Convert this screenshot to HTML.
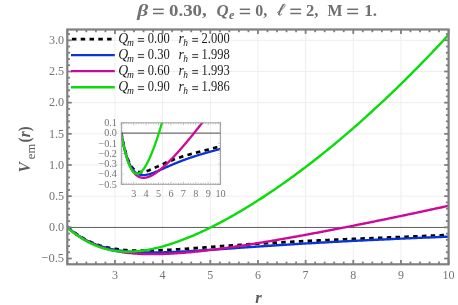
<!DOCTYPE html><html><head><meta charset="utf-8"><style>html,body{margin:0;padding:0;background:#fff}svg{display:block;will-change:transform;filter:contrast(1)}text{font-family:"Liberation Serif",serif}</style></head><body>
<svg width="458" height="305" viewBox="0 0 458 305">
<rect width="458" height="305" fill="#fff"/>
<g stroke="#eeeeee" stroke-width="1" fill="none"><line x1="114.96" y1="29.50" x2="114.96" y2="264.30"/><line x1="162.62" y1="29.50" x2="162.62" y2="264.30"/><line x1="210.29" y1="29.50" x2="210.29" y2="264.30"/><line x1="257.95" y1="29.50" x2="257.95" y2="264.30"/><line x1="305.61" y1="29.50" x2="305.61" y2="264.30"/><line x1="353.28" y1="29.50" x2="353.28" y2="264.30"/><line x1="400.94" y1="29.50" x2="400.94" y2="264.30"/><line x1="67.30" y1="196.17" x2="448.60" y2="196.17"/><line x1="67.30" y1="165.00" x2="448.60" y2="165.00"/><line x1="67.30" y1="133.82" x2="448.60" y2="133.82"/><line x1="67.30" y1="102.65" x2="448.60" y2="102.65"/><line x1="67.30" y1="71.47" x2="448.60" y2="71.47"/><line x1="67.30" y1="40.30" x2="448.60" y2="40.30"/></g>
<line x1="67.30" y1="227.45" x2="448.60" y2="227.45" stroke="#5c5c5c" stroke-width="1"/>
<clipPath id="cm"><rect x="67.30" y="29.50" width="381.30" height="234.80"/></clipPath>
<g clip-path="url(#cm)" fill="none" stroke-width="2.4" stroke-linejoin="round">
<path d="M67.30 226.76 L69.22 228.40 L71.13 229.97 L73.05 231.47 L74.96 232.91 L76.88 234.27 L78.80 235.56 L80.71 236.77 L82.63 237.92 L84.54 239.01 L86.46 240.02 L88.38 240.97 L90.29 241.87 L92.21 242.70 L94.13 243.47 L96.04 244.19 L97.96 244.87 L99.87 245.49 L101.79 246.06 L103.71 246.59 L105.62 247.08 L107.54 247.52 L109.45 247.93 L111.37 248.31 L113.29 248.64 L115.20 248.95 L117.12 249.23 L119.03 249.48 L120.95 249.70 L122.87 249.89 L124.78 250.06 L126.70 250.21 L128.61 250.34 L130.53 250.45 L132.45 250.53 L134.36 250.61 L136.28 250.66 L138.19 250.70 L140.11 250.72 L142.03 250.74 L143.94 250.73 L145.86 250.72 L147.78 250.70 L149.69 250.66 L151.61 250.62 L153.52 250.56 L155.44 250.50 L157.36 250.43 L159.27 250.36 L161.19 250.27 L163.10 250.18 L165.02 250.09 L166.94 249.99 L168.85 249.88 L170.77 249.78 L172.68 249.66 L174.60 249.54 L176.52 249.42 L178.43 249.30 L180.35 249.17 L182.26 249.05 L184.18 248.92 L186.10 248.78 L188.01 248.65 L189.93 248.51 L191.85 248.37 L193.76 248.24 L195.68 248.10 L197.59 247.96 L199.51 247.82 L201.43 247.67 L203.34 247.53 L205.26 247.39 L207.17 247.25 L209.09 247.11 L211.01 246.97 L212.92 246.83 L214.84 246.68 L216.75 246.54 L218.67 246.40 L220.59 246.26 L222.50 246.12 L224.42 245.99 L226.33 245.85 L228.25 245.71 L230.17 245.58 L232.08 245.44 L234.00 245.31 L235.92 245.17 L237.83 245.04 L239.75 244.91 L241.66 244.78 L243.58 244.65 L245.50 244.52 L247.41 244.40 L249.33 244.27 L251.24 244.15 L253.16 244.02 L255.08 243.90 L256.99 243.78 L258.91 243.66 L260.82 243.54 L262.74 243.42 L264.66 243.31 L266.57 243.19 L268.49 243.08 L270.40 242.97 L272.32 242.85 L274.24 242.74 L276.15 242.63 L278.07 242.52 L279.98 242.42 L281.90 242.31 L283.82 242.21 L285.73 242.10 L287.65 242.00 L289.57 241.90 L291.48 241.80 L293.40 241.70 L295.31 241.60 L297.23 241.50 L299.15 241.40 L301.06 241.30 L302.98 241.21 L304.89 241.11 L306.81 241.02 L308.73 240.93 L310.64 240.84 L312.56 240.74 L314.47 240.65 L316.39 240.57 L318.31 240.48 L320.22 240.39 L322.14 240.30 L324.05 240.21 L325.97 240.13 L327.89 240.04 L329.80 239.96 L331.72 239.87 L333.64 239.79 L335.55 239.71 L337.47 239.62 L339.38 239.54 L341.30 239.46 L343.22 239.38 L345.13 239.30 L347.05 239.22 L348.96 239.14 L350.88 239.06 L352.80 238.98 L354.71 238.90 L356.63 238.82 L358.54 238.74 L360.46 238.67 L362.38 238.59 L364.29 238.51 L366.21 238.43 L368.12 238.35 L370.04 238.28 L371.96 238.20 L373.87 238.12 L375.79 238.05 L377.71 237.97 L379.62 237.89 L381.54 237.82 L383.45 237.74 L385.37 237.66 L387.29 237.59 L389.20 237.51 L391.12 237.43 L393.03 237.36 L394.95 237.28 L396.87 237.20 L398.78 237.12 L400.70 237.05 L402.61 236.97 L404.53 236.89 L406.45 236.81 L408.36 236.73 L410.28 236.65 L412.19 236.57 L414.11 236.50 L416.03 236.42 L417.94 236.34 L419.86 236.25 L421.77 236.17 L423.69 236.09 L425.61 236.01 L427.52 235.93 L429.44 235.85 L431.36 235.76 L433.27 235.68 L435.19 235.59 L437.10 235.51 L439.02 235.42 L440.94 235.34 L442.85 235.25 L444.77 235.17 L446.68 235.08 L448.60 234.99" stroke="#000000" stroke-dasharray="4.5 4.3" stroke-width="2.8"/>
<path d="M67.30 227.01 L69.22 228.66 L71.13 230.25 L73.05 231.76 L74.96 233.20 L76.88 234.56 L78.80 235.86 L80.71 237.08 L82.63 238.24 L84.54 239.34 L86.46 240.37 L88.38 241.34 L90.29 242.25 L92.21 243.11 L94.13 243.91 L96.04 244.66 L97.96 245.36 L99.87 246.02 L101.79 246.63 L103.71 247.20 L105.62 247.73 L107.54 248.22 L109.45 248.68 L111.37 249.10 L113.29 249.49 L115.20 249.84 L117.12 250.17 L119.03 250.47 L120.95 250.75 L122.87 251.00 L124.78 251.22 L126.70 251.42 L128.61 251.61 L130.53 251.77 L132.45 251.91 L134.36 252.04 L136.28 252.15 L138.19 252.24 L140.11 252.32 L142.03 252.38 L143.94 252.43 L145.86 252.47 L147.78 252.50 L149.69 252.51 L151.61 252.52 L153.52 252.51 L155.44 252.50 L157.36 252.47 L159.27 252.44 L161.19 252.40 L163.10 252.35 L165.02 252.30 L166.94 252.24 L168.85 252.17 L170.77 252.10 L172.68 252.03 L174.60 251.94 L176.52 251.86 L178.43 251.77 L180.35 251.67 L182.26 251.57 L184.18 251.47 L186.10 251.37 L188.01 251.26 L189.93 251.15 L191.85 251.03 L193.76 250.92 L195.68 250.80 L197.59 250.68 L199.51 250.55 L201.43 250.43 L203.34 250.31 L205.26 250.18 L207.17 250.05 L209.09 249.92 L211.01 249.79 L212.92 249.66 L214.84 249.53 L216.75 249.40 L218.67 249.26 L220.59 249.13 L222.50 249.00 L224.42 248.86 L226.33 248.73 L228.25 248.59 L230.17 248.46 L232.08 248.32 L234.00 248.19 L235.92 248.05 L237.83 247.92 L239.75 247.78 L241.66 247.65 L243.58 247.52 L245.50 247.38 L247.41 247.25 L249.33 247.12 L251.24 246.98 L253.16 246.85 L255.08 246.72 L256.99 246.59 L258.91 246.46 L260.82 246.33 L262.74 246.20 L264.66 246.07 L266.57 245.94 L268.49 245.82 L270.40 245.69 L272.32 245.56 L274.24 245.44 L276.15 245.31 L278.07 245.19 L279.98 245.07 L281.90 244.94 L283.82 244.82 L285.73 244.70 L287.65 244.58 L289.57 244.46 L291.48 244.34 L293.40 244.22 L295.31 244.11 L297.23 243.99 L299.15 243.87 L301.06 243.76 L302.98 243.64 L304.89 243.53 L306.81 243.42 L308.73 243.31 L310.64 243.19 L312.56 243.08 L314.47 242.97 L316.39 242.86 L318.31 242.76 L320.22 242.65 L322.14 242.54 L324.05 242.43 L325.97 242.33 L327.89 242.22 L329.80 242.12 L331.72 242.02 L333.64 241.91 L335.55 241.81 L337.47 241.71 L339.38 241.61 L341.30 241.51 L343.22 241.41 L345.13 241.31 L347.05 241.21 L348.96 241.11 L350.88 241.01 L352.80 240.92 L354.71 240.82 L356.63 240.73 L358.54 240.63 L360.46 240.54 L362.38 240.44 L364.29 240.35 L366.21 240.26 L368.12 240.16 L370.04 240.07 L371.96 239.98 L373.87 239.89 L375.79 239.80 L377.71 239.71 L379.62 239.62 L381.54 239.53 L383.45 239.44 L385.37 239.36 L387.29 239.27 L389.20 239.18 L391.12 239.09 L393.03 239.01 L394.95 238.92 L396.87 238.84 L398.78 238.75 L400.70 238.67 L402.61 238.58 L404.53 238.50 L406.45 238.41 L408.36 238.33 L410.28 238.25 L412.19 238.16 L414.11 238.08 L416.03 238.00 L417.94 237.92 L419.86 237.84 L421.77 237.75 L423.69 237.67 L425.61 237.59 L427.52 237.51 L429.44 237.43 L431.36 237.35 L433.27 237.27 L435.19 237.19 L437.10 237.11 L439.02 237.03 L440.94 236.95 L442.85 236.87 L444.77 236.79 L446.68 236.71 L448.60 236.64" stroke="#0a35d2"/>
<path d="M67.30 227.42 L69.22 229.07 L71.13 230.65 L73.05 232.15 L74.96 233.58 L76.88 234.95 L78.80 236.25 L80.71 237.48 L82.63 238.64 L84.54 239.75 L86.46 240.80 L88.38 241.79 L90.29 242.73 L92.21 243.62 L94.13 244.45 L96.04 245.24 L97.96 245.98 L99.87 246.68 L101.79 247.33 L103.71 247.95 L105.62 248.52 L107.54 249.06 L109.45 249.57 L111.37 250.04 L113.29 250.47 L115.20 250.88 L117.12 251.25 L119.03 251.60 L120.95 251.92 L122.87 252.22 L124.78 252.49 L126.70 252.73 L128.61 252.96 L130.53 253.16 L132.45 253.34 L134.36 253.50 L136.28 253.64 L138.19 253.76 L140.11 253.87 L142.03 253.96 L143.94 254.03 L145.86 254.08 L147.78 254.12 L149.69 254.15 L151.61 254.16 L153.52 254.16 L155.44 254.15 L157.36 254.13 L159.27 254.09 L161.19 254.04 L163.10 253.98 L165.02 253.91 L166.94 253.83 L168.85 253.74 L170.77 253.64 L172.68 253.54 L174.60 253.42 L176.52 253.29 L178.43 253.16 L180.35 253.02 L182.26 252.87 L184.18 252.72 L186.10 252.56 L188.01 252.39 L189.93 252.21 L191.85 252.03 L193.76 251.84 L195.68 251.65 L197.59 251.45 L199.51 251.25 L201.43 251.04 L203.34 250.82 L205.26 250.60 L207.17 250.38 L209.09 250.15 L211.01 249.92 L212.92 249.68 L214.84 249.44 L216.75 249.19 L218.67 248.94 L220.59 248.69 L222.50 248.43 L224.42 248.17 L226.33 247.91 L228.25 247.64 L230.17 247.37 L232.08 247.09 L234.00 246.82 L235.92 246.54 L237.83 246.25 L239.75 245.97 L241.66 245.68 L243.58 245.39 L245.50 245.09 L247.41 244.79 L249.33 244.50 L251.24 244.19 L253.16 243.89 L255.08 243.58 L256.99 243.28 L258.91 242.96 L260.82 242.65 L262.74 242.34 L264.66 242.02 L266.57 241.70 L268.49 241.38 L270.40 241.06 L272.32 240.73 L274.24 240.41 L276.15 240.08 L278.07 239.75 L279.98 239.42 L281.90 239.08 L283.82 238.75 L285.73 238.41 L287.65 238.07 L289.57 237.73 L291.48 237.39 L293.40 237.05 L295.31 236.70 L297.23 236.36 L299.15 236.01 L301.06 235.66 L302.98 235.31 L304.89 234.96 L306.81 234.61 L308.73 234.26 L310.64 233.90 L312.56 233.55 L314.47 233.19 L316.39 232.83 L318.31 232.47 L320.22 232.11 L322.14 231.75 L324.05 231.38 L325.97 231.02 L327.89 230.65 L329.80 230.29 L331.72 229.92 L333.64 229.55 L335.55 229.18 L337.47 228.81 L339.38 228.44 L341.30 228.06 L343.22 227.69 L345.13 227.32 L347.05 226.94 L348.96 226.56 L350.88 226.18 L352.80 225.81 L354.71 225.43 L356.63 225.05 L358.54 224.66 L360.46 224.28 L362.38 223.90 L364.29 223.51 L366.21 223.13 L368.12 222.74 L370.04 222.35 L371.96 221.97 L373.87 221.58 L375.79 221.19 L377.71 220.80 L379.62 220.41 L381.54 220.01 L383.45 219.62 L385.37 219.23 L387.29 218.83 L389.20 218.44 L391.12 218.04 L393.03 217.64 L394.95 217.24 L396.87 216.85 L398.78 216.45 L400.70 216.05 L402.61 215.64 L404.53 215.24 L406.45 214.84 L408.36 214.44 L410.28 214.03 L412.19 213.63 L414.11 213.22 L416.03 212.81 L417.94 212.41 L419.86 212.00 L421.77 211.59 L423.69 211.18 L425.61 210.77 L427.52 210.36 L429.44 209.95 L431.36 209.53 L433.27 209.12 L435.19 208.70 L437.10 208.29 L439.02 207.87 L440.94 207.46 L442.85 207.04 L444.77 206.62 L446.68 206.20 L448.60 205.78" stroke="#cc0a9a"/>
<path d="M67.30 227.90 L69.22 229.35 L71.13 230.80 L73.05 232.22 L74.96 233.61 L76.88 234.97 L78.80 236.28 L80.71 237.55 L82.63 238.76 L84.54 239.92 L86.46 241.03 L88.38 242.07 L90.29 243.06 L92.21 243.99 L94.13 244.87 L96.04 245.68 L97.96 246.44 L99.87 247.14 L101.79 247.79 L103.71 248.38 L105.62 248.92 L107.54 249.40 L109.45 249.84 L111.37 250.22 L113.29 250.56 L115.20 250.85 L117.12 251.10 L119.03 251.30 L120.95 251.46 L122.87 251.57 L124.78 251.65 L126.70 251.69 L128.61 251.69 L130.53 251.65 L132.45 251.57 L134.36 251.47 L136.28 251.32 L138.19 251.15 L140.11 250.94 L142.03 250.70 L143.94 250.44 L145.86 250.14 L147.78 249.82 L149.69 249.46 L151.61 249.09 L153.52 248.68 L155.44 248.25 L157.36 247.80 L159.27 247.32 L161.19 246.82 L163.10 246.30 L165.02 245.76 L166.94 245.19 L168.85 244.60 L170.77 244.00 L172.68 243.37 L174.60 242.72 L176.52 242.06 L178.43 241.37 L180.35 240.67 L182.26 239.95 L184.18 239.22 L186.10 238.46 L188.01 237.70 L189.93 236.91 L191.85 236.11 L193.76 235.29 L195.68 234.46 L197.59 233.61 L199.51 232.75 L201.43 231.87 L203.34 230.98 L205.26 230.08 L207.17 229.16 L209.09 228.23 L211.01 227.29 L212.92 226.33 L214.84 225.36 L216.75 224.37 L218.67 223.38 L220.59 222.37 L222.50 221.35 L224.42 220.32 L226.33 219.28 L228.25 218.22 L230.17 217.15 L232.08 216.08 L234.00 214.99 L235.92 213.89 L237.83 212.77 L239.75 211.65 L241.66 210.52 L243.58 209.38 L245.50 208.22 L247.41 207.06 L249.33 205.88 L251.24 204.70 L253.16 203.50 L255.08 202.29 L256.99 201.08 L258.91 199.85 L260.82 198.62 L262.74 197.37 L264.66 196.12 L266.57 194.85 L268.49 193.58 L270.40 192.29 L272.32 191.00 L274.24 189.70 L276.15 188.38 L278.07 187.06 L279.98 185.73 L281.90 184.39 L283.82 183.04 L285.73 181.68 L287.65 180.32 L289.57 178.94 L291.48 177.55 L293.40 176.16 L295.31 174.75 L297.23 173.34 L299.15 171.92 L301.06 170.49 L302.98 169.05 L304.89 167.60 L306.81 166.14 L308.73 164.68 L310.64 163.20 L312.56 161.72 L314.47 160.23 L316.39 158.73 L318.31 157.22 L320.22 155.70 L322.14 154.17 L324.05 152.64 L325.97 151.09 L327.89 149.54 L329.80 147.98 L331.72 146.41 L333.64 144.83 L335.55 143.24 L337.47 141.65 L339.38 140.05 L341.30 138.43 L343.22 136.81 L345.13 135.18 L347.05 133.55 L348.96 131.90 L350.88 130.25 L352.80 128.58 L354.71 126.91 L356.63 125.23 L358.54 123.54 L360.46 121.85 L362.38 120.14 L364.29 118.43 L366.21 116.71 L368.12 114.98 L370.04 113.24 L371.96 111.49 L373.87 109.74 L375.79 107.97 L377.71 106.20 L379.62 104.42 L381.54 102.63 L383.45 100.84 L385.37 99.03 L387.29 97.22 L389.20 95.40 L391.12 93.57 L393.03 91.73 L394.95 89.88 L396.87 88.03 L398.78 86.16 L400.70 84.29 L402.61 82.41 L404.53 80.52 L406.45 78.63 L408.36 76.72 L410.28 74.81 L412.19 72.89 L414.11 70.96 L416.03 69.02 L417.94 67.07 L419.86 65.12 L421.77 63.15 L423.69 61.18 L425.61 59.20 L427.52 57.21 L429.44 55.22 L431.36 53.21 L433.27 51.20 L435.19 49.18 L437.10 47.15 L439.02 45.11 L440.94 43.06 L442.85 41.01 L444.77 38.95 L446.68 36.87 L448.60 34.79" stroke="#0adc0a"/>
</g>
<g stroke="#7f7f7f" stroke-width="1.8" fill="none"><line x1="67.30" y1="264.30" x2="67.30" y2="259.90"/><line x1="67.30" y1="29.50" x2="67.30" y2="33.90"/><line x1="76.83" y1="264.30" x2="76.83" y2="261.60"/><line x1="76.83" y1="29.50" x2="76.83" y2="32.20"/><line x1="86.36" y1="264.30" x2="86.36" y2="261.60"/><line x1="86.36" y1="29.50" x2="86.36" y2="32.20"/><line x1="95.90" y1="264.30" x2="95.90" y2="261.60"/><line x1="95.90" y1="29.50" x2="95.90" y2="32.20"/><line x1="105.43" y1="264.30" x2="105.43" y2="261.60"/><line x1="105.43" y1="29.50" x2="105.43" y2="32.20"/><line x1="114.96" y1="264.30" x2="114.96" y2="259.90"/><line x1="114.96" y1="29.50" x2="114.96" y2="33.90"/><line x1="124.50" y1="264.30" x2="124.50" y2="261.60"/><line x1="124.50" y1="29.50" x2="124.50" y2="32.20"/><line x1="134.03" y1="264.30" x2="134.03" y2="261.60"/><line x1="134.03" y1="29.50" x2="134.03" y2="32.20"/><line x1="143.56" y1="264.30" x2="143.56" y2="261.60"/><line x1="143.56" y1="29.50" x2="143.56" y2="32.20"/><line x1="153.09" y1="264.30" x2="153.09" y2="261.60"/><line x1="153.09" y1="29.50" x2="153.09" y2="32.20"/><line x1="162.62" y1="264.30" x2="162.62" y2="259.90"/><line x1="162.62" y1="29.50" x2="162.62" y2="33.90"/><line x1="172.16" y1="264.30" x2="172.16" y2="261.60"/><line x1="172.16" y1="29.50" x2="172.16" y2="32.20"/><line x1="181.69" y1="264.30" x2="181.69" y2="261.60"/><line x1="181.69" y1="29.50" x2="181.69" y2="32.20"/><line x1="191.22" y1="264.30" x2="191.22" y2="261.60"/><line x1="191.22" y1="29.50" x2="191.22" y2="32.20"/><line x1="200.76" y1="264.30" x2="200.76" y2="261.60"/><line x1="200.76" y1="29.50" x2="200.76" y2="32.20"/><line x1="210.29" y1="264.30" x2="210.29" y2="259.90"/><line x1="210.29" y1="29.50" x2="210.29" y2="33.90"/><line x1="219.82" y1="264.30" x2="219.82" y2="261.60"/><line x1="219.82" y1="29.50" x2="219.82" y2="32.20"/><line x1="229.35" y1="264.30" x2="229.35" y2="261.60"/><line x1="229.35" y1="29.50" x2="229.35" y2="32.20"/><line x1="238.88" y1="264.30" x2="238.88" y2="261.60"/><line x1="238.88" y1="29.50" x2="238.88" y2="32.20"/><line x1="248.42" y1="264.30" x2="248.42" y2="261.60"/><line x1="248.42" y1="29.50" x2="248.42" y2="32.20"/><line x1="257.95" y1="264.30" x2="257.95" y2="259.90"/><line x1="257.95" y1="29.50" x2="257.95" y2="33.90"/><line x1="267.48" y1="264.30" x2="267.48" y2="261.60"/><line x1="267.48" y1="29.50" x2="267.48" y2="32.20"/><line x1="277.02" y1="264.30" x2="277.02" y2="261.60"/><line x1="277.02" y1="29.50" x2="277.02" y2="32.20"/><line x1="286.55" y1="264.30" x2="286.55" y2="261.60"/><line x1="286.55" y1="29.50" x2="286.55" y2="32.20"/><line x1="296.08" y1="264.30" x2="296.08" y2="261.60"/><line x1="296.08" y1="29.50" x2="296.08" y2="32.20"/><line x1="305.61" y1="264.30" x2="305.61" y2="259.90"/><line x1="305.61" y1="29.50" x2="305.61" y2="33.90"/><line x1="315.15" y1="264.30" x2="315.15" y2="261.60"/><line x1="315.15" y1="29.50" x2="315.15" y2="32.20"/><line x1="324.68" y1="264.30" x2="324.68" y2="261.60"/><line x1="324.68" y1="29.50" x2="324.68" y2="32.20"/><line x1="334.21" y1="264.30" x2="334.21" y2="261.60"/><line x1="334.21" y1="29.50" x2="334.21" y2="32.20"/><line x1="343.74" y1="264.30" x2="343.74" y2="261.60"/><line x1="343.74" y1="29.50" x2="343.74" y2="32.20"/><line x1="353.28" y1="264.30" x2="353.28" y2="259.90"/><line x1="353.28" y1="29.50" x2="353.28" y2="33.90"/><line x1="362.81" y1="264.30" x2="362.81" y2="261.60"/><line x1="362.81" y1="29.50" x2="362.81" y2="32.20"/><line x1="372.34" y1="264.30" x2="372.34" y2="261.60"/><line x1="372.34" y1="29.50" x2="372.34" y2="32.20"/><line x1="381.87" y1="264.30" x2="381.87" y2="261.60"/><line x1="381.87" y1="29.50" x2="381.87" y2="32.20"/><line x1="391.41" y1="264.30" x2="391.41" y2="261.60"/><line x1="391.41" y1="29.50" x2="391.41" y2="32.20"/><line x1="400.94" y1="264.30" x2="400.94" y2="259.90"/><line x1="400.94" y1="29.50" x2="400.94" y2="33.90"/><line x1="410.47" y1="264.30" x2="410.47" y2="261.60"/><line x1="410.47" y1="29.50" x2="410.47" y2="32.20"/><line x1="420.00" y1="264.30" x2="420.00" y2="261.60"/><line x1="420.00" y1="29.50" x2="420.00" y2="32.20"/><line x1="429.54" y1="264.30" x2="429.54" y2="261.60"/><line x1="429.54" y1="29.50" x2="429.54" y2="32.20"/><line x1="439.07" y1="264.30" x2="439.07" y2="261.60"/><line x1="439.07" y1="29.50" x2="439.07" y2="32.20"/><line x1="448.60" y1="264.30" x2="448.60" y2="259.90"/><line x1="448.60" y1="29.50" x2="448.60" y2="33.90"/><line x1="67.30" y1="258.52" x2="71.70" y2="258.52"/><line x1="448.60" y1="258.52" x2="444.20" y2="258.52"/><line x1="67.30" y1="252.29" x2="70.00" y2="252.29"/><line x1="448.60" y1="252.29" x2="445.90" y2="252.29"/><line x1="67.30" y1="246.06" x2="70.00" y2="246.06"/><line x1="448.60" y1="246.06" x2="445.90" y2="246.06"/><line x1="67.30" y1="239.82" x2="70.00" y2="239.82"/><line x1="448.60" y1="239.82" x2="445.90" y2="239.82"/><line x1="67.30" y1="233.59" x2="70.00" y2="233.59"/><line x1="448.60" y1="233.59" x2="445.90" y2="233.59"/><line x1="67.30" y1="227.35" x2="71.70" y2="227.35"/><line x1="448.60" y1="227.35" x2="444.20" y2="227.35"/><line x1="67.30" y1="221.11" x2="70.00" y2="221.11"/><line x1="448.60" y1="221.11" x2="445.90" y2="221.11"/><line x1="67.30" y1="214.88" x2="70.00" y2="214.88"/><line x1="448.60" y1="214.88" x2="445.90" y2="214.88"/><line x1="67.30" y1="208.64" x2="70.00" y2="208.64"/><line x1="448.60" y1="208.64" x2="445.90" y2="208.64"/><line x1="67.30" y1="202.41" x2="70.00" y2="202.41"/><line x1="448.60" y1="202.41" x2="445.90" y2="202.41"/><line x1="67.30" y1="196.17" x2="71.70" y2="196.17"/><line x1="448.60" y1="196.17" x2="444.20" y2="196.17"/><line x1="67.30" y1="189.94" x2="70.00" y2="189.94"/><line x1="448.60" y1="189.94" x2="445.90" y2="189.94"/><line x1="67.30" y1="183.70" x2="70.00" y2="183.70"/><line x1="448.60" y1="183.70" x2="445.90" y2="183.70"/><line x1="67.30" y1="177.47" x2="70.00" y2="177.47"/><line x1="448.60" y1="177.47" x2="445.90" y2="177.47"/><line x1="67.30" y1="171.23" x2="70.00" y2="171.23"/><line x1="448.60" y1="171.23" x2="445.90" y2="171.23"/><line x1="67.30" y1="165.00" x2="71.70" y2="165.00"/><line x1="448.60" y1="165.00" x2="444.20" y2="165.00"/><line x1="67.30" y1="158.76" x2="70.00" y2="158.76"/><line x1="448.60" y1="158.76" x2="445.90" y2="158.76"/><line x1="67.30" y1="152.53" x2="70.00" y2="152.53"/><line x1="448.60" y1="152.53" x2="445.90" y2="152.53"/><line x1="67.30" y1="146.29" x2="70.00" y2="146.29"/><line x1="448.60" y1="146.29" x2="445.90" y2="146.29"/><line x1="67.30" y1="140.06" x2="70.00" y2="140.06"/><line x1="448.60" y1="140.06" x2="445.90" y2="140.06"/><line x1="67.30" y1="133.82" x2="71.70" y2="133.82"/><line x1="448.60" y1="133.82" x2="444.20" y2="133.82"/><line x1="67.30" y1="127.59" x2="70.00" y2="127.59"/><line x1="448.60" y1="127.59" x2="445.90" y2="127.59"/><line x1="67.30" y1="121.35" x2="70.00" y2="121.35"/><line x1="448.60" y1="121.35" x2="445.90" y2="121.35"/><line x1="67.30" y1="115.12" x2="70.00" y2="115.12"/><line x1="448.60" y1="115.12" x2="445.90" y2="115.12"/><line x1="67.30" y1="108.88" x2="70.00" y2="108.88"/><line x1="448.60" y1="108.88" x2="445.90" y2="108.88"/><line x1="67.30" y1="102.65" x2="71.70" y2="102.65"/><line x1="448.60" y1="102.65" x2="444.20" y2="102.65"/><line x1="67.30" y1="96.41" x2="70.00" y2="96.41"/><line x1="448.60" y1="96.41" x2="445.90" y2="96.41"/><line x1="67.30" y1="90.18" x2="70.00" y2="90.18"/><line x1="448.60" y1="90.18" x2="445.90" y2="90.18"/><line x1="67.30" y1="83.94" x2="70.00" y2="83.94"/><line x1="448.60" y1="83.94" x2="445.90" y2="83.94"/><line x1="67.30" y1="77.71" x2="70.00" y2="77.71"/><line x1="448.60" y1="77.71" x2="445.90" y2="77.71"/><line x1="67.30" y1="71.47" x2="71.70" y2="71.47"/><line x1="448.60" y1="71.47" x2="444.20" y2="71.47"/><line x1="67.30" y1="65.24" x2="70.00" y2="65.24"/><line x1="448.60" y1="65.24" x2="445.90" y2="65.24"/><line x1="67.30" y1="59.00" x2="70.00" y2="59.00"/><line x1="448.60" y1="59.00" x2="445.90" y2="59.00"/><line x1="67.30" y1="52.77" x2="70.00" y2="52.77"/><line x1="448.60" y1="52.77" x2="445.90" y2="52.77"/><line x1="67.30" y1="46.53" x2="70.00" y2="46.53"/><line x1="448.60" y1="46.53" x2="445.90" y2="46.53"/><line x1="67.30" y1="40.30" x2="71.70" y2="40.30"/><line x1="448.60" y1="40.30" x2="444.20" y2="40.30"/><line x1="67.30" y1="34.06" x2="70.00" y2="34.06"/><line x1="448.60" y1="34.06" x2="445.90" y2="34.06"/></g>
<rect x="67.30" y="29.50" width="381.30" height="234.80" fill="none" stroke="#7f7f7f" stroke-width="2.2"/>
<g fill="#747474">
<text x="41.30" y="262.27" font-size="13.5" textLength="22.80" lengthAdjust="spacingAndGlyphs" >−0.5</text>
<text x="48.90" y="231.10" font-size="13.5" textLength="15.20" lengthAdjust="spacingAndGlyphs" >0.0</text>
<text x="48.90" y="199.92" font-size="13.5" textLength="15.20" lengthAdjust="spacingAndGlyphs" >0.5</text>
<text x="48.90" y="168.75" font-size="13.5" textLength="15.20" lengthAdjust="spacingAndGlyphs" >1.0</text>
<text x="48.90" y="137.57" font-size="13.5" textLength="15.20" lengthAdjust="spacingAndGlyphs" >1.5</text>
<text x="48.90" y="106.40" font-size="13.5" textLength="15.20" lengthAdjust="spacingAndGlyphs" >2.0</text>
<text x="48.90" y="75.22" font-size="13.5" textLength="15.20" lengthAdjust="spacingAndGlyphs" >2.5</text>
<text x="48.90" y="44.05" font-size="13.5" textLength="15.20" lengthAdjust="spacingAndGlyphs" >3.0</text>
<text x="111.96" y="279.00" font-size="13.5" textLength="6.00" lengthAdjust="spacingAndGlyphs" >3</text>
<text x="159.62" y="279.00" font-size="13.5" textLength="6.00" lengthAdjust="spacingAndGlyphs" >4</text>
<text x="207.29" y="279.00" font-size="13.5" textLength="6.00" lengthAdjust="spacingAndGlyphs" >5</text>
<text x="254.95" y="279.00" font-size="13.5" textLength="6.00" lengthAdjust="spacingAndGlyphs" >6</text>
<text x="302.61" y="279.00" font-size="13.5" textLength="6.00" lengthAdjust="spacingAndGlyphs" >7</text>
<text x="350.28" y="279.00" font-size="13.5" textLength="6.00" lengthAdjust="spacingAndGlyphs" >8</text>
<text x="397.94" y="279.00" font-size="13.5" textLength="6.00" lengthAdjust="spacingAndGlyphs" >9</text>
<text x="442.50" y="279.00" font-size="13.5" textLength="12.20" lengthAdjust="spacingAndGlyphs" >10</text>
</g>
<text x="255.2" y="302.8" font-size="16.5" font-weight="bold" font-style="italic" fill="#5c5c5c">r</text>
<g transform="translate(29.6,172.8) rotate(-90)" fill="#5c5c5c" font-weight="bold">
<text x="0.20" y="0.00" font-size="16.5" textLength="10.40" lengthAdjust="spacingAndGlyphs" font-style="italic">V</text>
<text x="13.60" y="5.30" font-size="12.8" textLength="15.40" lengthAdjust="spacingAndGlyphs" font-weight="normal">em</text>
<text x="30.40" y="0.60" font-size="16.5" textLength="5.00" lengthAdjust="spacingAndGlyphs" >(</text>
<text x="35.60" y="0.60" font-size="16.5" textLength="6.00" lengthAdjust="spacingAndGlyphs" font-style="italic">r</text>
<text x="41.60" y="0.60" font-size="16.5" textLength="4.80" lengthAdjust="spacingAndGlyphs" >)</text>
</g>
<g fill="#707070" font-weight="bold">
<text x="137.20" y="16.00" font-size="16.7" textLength="11.00" lengthAdjust="spacingAndGlyphs" font-style="italic">β</text>
<rect x="153.00" y="8.55" width="10.70" height="1.50" fill="#707070"/><rect x="153.00" y="12.75" width="10.70" height="1.50" fill="#707070"/>
<text x="169.00" y="16.00" font-size="16.7" textLength="37.70" lengthAdjust="spacingAndGlyphs" >0.30,</text>
<text x="216.60" y="16.00" font-size="16.7" font-style="italic">Q</text>
<text x="229.00" y="19.40" font-size="12.3" font-style="italic">e</text>
<rect x="239.80" y="8.55" width="10.30" height="1.50" fill="#707070"/><rect x="239.80" y="12.75" width="10.30" height="1.50" fill="#707070"/>
<text x="255.30" y="16.00" font-size="16.7" textLength="12.00" lengthAdjust="spacingAndGlyphs" >0,</text>
<g fill="none" stroke="#707070" stroke-linecap="round"><path d="M277.3,12.5 C279.5,11.5 284.5,8.2 285.1,5.6 C285.3,4.1 284.0,3.8 283.3,4.8" stroke-width="0.9"/><path d="M283.3,4.8 C281.8,7 279.4,12.2 278.8,14.2" stroke-width="1.7"/><path d="M278.8,14.2 C278.5,15.7 279.7,15.8 281.7,14.2" stroke-width="0.9"/></g>
<rect x="290.30" y="8.55" width="10.80" height="1.50" fill="#707070"/><rect x="290.30" y="12.75" width="10.80" height="1.50" fill="#707070"/>
<text x="306.00" y="16.00" font-size="16.7" textLength="12.40" lengthAdjust="spacingAndGlyphs" >2,</text>
<text x="327.50" y="16.00" font-size="16.7" textLength="15.00" lengthAdjust="spacingAndGlyphs" >M</text>
<rect x="347.20" y="8.55" width="10.90" height="1.50" fill="#707070"/><rect x="347.20" y="12.75" width="10.90" height="1.50" fill="#707070"/>
<text x="364.20" y="16.00" font-size="16.7" textLength="12.90" lengthAdjust="spacingAndGlyphs" >1.</text>
</g>
<g fill="#1c1c1c">
<line x1="71.9" y1="39.10" x2="114.8" y2="39.10" stroke="#000000" stroke-dasharray="4.5 4.3" stroke-width="2.7"/>
<text x="118.20" y="43.35" font-size="13.7" font-style="italic">Q</text>
<text x="127.00" y="45.55" font-size="10.3" textLength="6.90" lengthAdjust="spacingAndGlyphs" font-style="italic">m</text>
<rect x="137.90" y="38.10" width="6.20" height="1.00" fill="#333"/><rect x="137.90" y="40.80" width="6.20" height="1.00" fill="#333"/>
<text x="147.80" y="43.15" font-size="13.7" textLength="21.90" lengthAdjust="spacingAndGlyphs" >0.00</text>
<text x="178.60" y="43.25" font-size="13.7" font-style="italic">r</text>
<text x="183.30" y="45.55" font-size="10.3" textLength="4.70" lengthAdjust="spacingAndGlyphs" font-style="italic">h</text>
<rect x="192.20" y="38.10" width="5.80" height="1.00" fill="#333"/><rect x="192.20" y="40.80" width="5.80" height="1.00" fill="#333"/>
<text x="201.60" y="43.15" font-size="13.7" textLength="28.10" lengthAdjust="spacingAndGlyphs" >2.000</text>
<line x1="71" y1="55.15" x2="114.8" y2="55.15" stroke="#0a35d2" stroke-width="2.4"/>
<text x="118.20" y="59.40" font-size="13.7" font-style="italic">Q</text>
<text x="127.00" y="61.60" font-size="10.3" textLength="6.90" lengthAdjust="spacingAndGlyphs" font-style="italic">m</text>
<rect x="137.90" y="54.15" width="6.20" height="1.00" fill="#333"/><rect x="137.90" y="56.85" width="6.20" height="1.00" fill="#333"/>
<text x="147.80" y="59.20" font-size="13.7" textLength="21.90" lengthAdjust="spacingAndGlyphs" >0.30</text>
<text x="178.60" y="59.30" font-size="13.7" font-style="italic">r</text>
<text x="183.30" y="61.60" font-size="10.3" textLength="4.70" lengthAdjust="spacingAndGlyphs" font-style="italic">h</text>
<rect x="192.20" y="54.15" width="5.80" height="1.00" fill="#333"/><rect x="192.20" y="56.85" width="5.80" height="1.00" fill="#333"/>
<text x="201.60" y="59.20" font-size="13.7" textLength="28.10" lengthAdjust="spacingAndGlyphs" >1.998</text>
<line x1="71" y1="71.10" x2="114.8" y2="71.10" stroke="#cc0a9a" stroke-width="2.4"/>
<text x="118.20" y="75.35" font-size="13.7" font-style="italic">Q</text>
<text x="127.00" y="77.55" font-size="10.3" textLength="6.90" lengthAdjust="spacingAndGlyphs" font-style="italic">m</text>
<rect x="137.90" y="70.10" width="6.20" height="1.00" fill="#333"/><rect x="137.90" y="72.80" width="6.20" height="1.00" fill="#333"/>
<text x="147.80" y="75.15" font-size="13.7" textLength="21.90" lengthAdjust="spacingAndGlyphs" >0.60</text>
<text x="178.60" y="75.25" font-size="13.7" font-style="italic">r</text>
<text x="183.30" y="77.55" font-size="10.3" textLength="4.70" lengthAdjust="spacingAndGlyphs" font-style="italic">h</text>
<rect x="192.20" y="70.10" width="5.80" height="1.00" fill="#333"/><rect x="192.20" y="72.80" width="5.80" height="1.00" fill="#333"/>
<text x="201.60" y="75.15" font-size="13.7" textLength="28.10" lengthAdjust="spacingAndGlyphs" >1.993</text>
<line x1="71" y1="87.20" x2="114.8" y2="87.20" stroke="#0adc0a" stroke-width="2.4"/>
<text x="118.20" y="91.45" font-size="13.7" font-style="italic">Q</text>
<text x="127.00" y="93.65" font-size="10.3" textLength="6.90" lengthAdjust="spacingAndGlyphs" font-style="italic">m</text>
<rect x="137.90" y="86.20" width="6.20" height="1.00" fill="#333"/><rect x="137.90" y="88.90" width="6.20" height="1.00" fill="#333"/>
<text x="147.80" y="91.25" font-size="13.7" textLength="21.90" lengthAdjust="spacingAndGlyphs" >0.90</text>
<text x="178.60" y="91.35" font-size="13.7" font-style="italic">r</text>
<text x="183.30" y="93.65" font-size="10.3" textLength="4.70" lengthAdjust="spacingAndGlyphs" font-style="italic">h</text>
<rect x="192.20" y="86.20" width="5.80" height="1.00" fill="#333"/><rect x="192.20" y="88.90" width="5.80" height="1.00" fill="#333"/>
<text x="201.60" y="91.25" font-size="13.7" textLength="28.10" lengthAdjust="spacingAndGlyphs" >1.986</text>
</g>
<clipPath id="ci"><rect x="121.30" y="122.80" width="99.30" height="61.50"/></clipPath>
<line x1="121.30" y1="133.05" x2="220.60" y2="133.05" stroke="#6e6e6e" stroke-width="1.25"/>
<g clip-path="url(#ci)" fill="none" stroke-width="2.3" stroke-linejoin="round">
<path d="M121.30 132.66 L121.80 135.36 L122.30 137.95 L122.80 140.42 L123.30 142.78 L123.79 145.02 L124.29 147.15 L124.79 149.16 L125.29 151.05 L125.79 152.83 L126.29 154.51 L126.79 156.08 L127.29 157.55 L127.79 158.92 L128.29 160.20 L128.78 161.39 L129.28 162.49 L129.78 163.51 L130.28 164.46 L130.78 165.33 L131.28 166.13 L131.78 166.87 L132.28 167.54 L132.78 168.16 L133.28 168.72 L133.77 169.22 L134.27 169.68 L134.77 170.09 L135.27 170.45 L135.77 170.77 L136.27 171.05 L136.77 171.30 L137.27 171.51 L137.77 171.69 L138.27 171.83 L138.76 171.95 L139.26 172.04 L139.76 172.11 L140.26 172.15 L140.76 172.16 L141.26 172.16 L141.76 172.14 L142.26 172.10 L142.76 172.04 L143.26 171.97 L143.75 171.88 L144.25 171.78 L144.75 171.67 L145.25 171.54 L145.75 171.40 L146.25 171.26 L146.75 171.10 L147.25 170.93 L147.75 170.76 L148.25 170.58 L148.74 170.39 L149.24 170.20 L149.74 170.00 L150.24 169.80 L150.74 169.59 L151.24 169.38 L151.74 169.16 L152.24 168.95 L152.74 168.72 L153.24 168.50 L153.73 168.27 L154.23 168.05 L154.73 167.82 L155.23 167.59 L155.73 167.35 L156.23 167.12 L156.73 166.89 L157.23 166.65 L157.73 166.42 L158.23 166.19 L158.72 165.95 L159.22 165.72 L159.72 165.49 L160.22 165.26 L160.72 165.02 L161.22 164.79 L161.72 164.57 L162.22 164.34 L162.72 164.11 L163.22 163.89 L163.71 163.66 L164.21 163.44 L164.71 163.22 L165.21 163.00 L165.71 162.78 L166.21 162.57 L166.71 162.35 L167.21 162.14 L167.71 161.93 L168.21 161.72 L168.70 161.51 L169.20 161.31 L169.70 161.10 L170.20 160.90 L170.70 160.70 L171.20 160.50 L171.70 160.31 L172.20 160.12 L172.70 159.92 L173.20 159.73 L173.69 159.55 L174.19 159.36 L174.69 159.17 L175.19 158.99 L175.69 158.81 L176.19 158.63 L176.69 158.46 L177.19 158.28 L177.69 158.11 L178.19 157.94 L178.68 157.77 L179.18 157.60 L179.68 157.43 L180.18 157.27 L180.68 157.10 L181.18 156.94 L181.68 156.78 L182.18 156.62 L182.68 156.47 L183.18 156.31 L183.67 156.16 L184.17 156.00 L184.67 155.85 L185.17 155.70 L185.67 155.55 L186.17 155.40 L186.67 155.26 L187.17 155.11 L187.67 154.97 L188.17 154.83 L188.66 154.68 L189.16 154.54 L189.66 154.40 L190.16 154.26 L190.66 154.13 L191.16 153.99 L191.66 153.85 L192.16 153.72 L192.66 153.58 L193.16 153.45 L193.65 153.32 L194.15 153.18 L194.65 153.05 L195.15 152.92 L195.65 152.79 L196.15 152.66 L196.65 152.53 L197.15 152.40 L197.65 152.27 L198.15 152.14 L198.64 152.02 L199.14 151.89 L199.64 151.76 L200.14 151.63 L200.64 151.51 L201.14 151.38 L201.64 151.25 L202.14 151.13 L202.64 151.00 L203.14 150.87 L203.63 150.75 L204.13 150.62 L204.63 150.50 L205.13 150.37 L205.63 150.24 L206.13 150.12 L206.63 149.99 L207.13 149.86 L207.63 149.73 L208.13 149.60 L208.62 149.48 L209.12 149.35 L209.62 149.22 L210.12 149.09 L210.62 148.96 L211.12 148.83 L211.62 148.70 L212.12 148.57 L212.62 148.43 L213.12 148.30 L213.61 148.17 L214.11 148.03 L214.61 147.90 L215.11 147.76 L215.61 147.63 L216.11 147.49 L216.61 147.35 L217.11 147.21 L217.61 147.07 L218.11 146.93 L218.60 146.79 L219.10 146.65 L219.60 146.51 L220.10 146.36 L220.60 146.22" stroke="#000000" stroke-dasharray="4.5 4.3" stroke-width="2.7"/>
<path d="M121.30 133.06 L121.80 135.79 L122.30 138.40 L122.80 140.89 L123.30 143.26 L123.79 145.51 L124.29 147.65 L124.79 149.67 L125.29 151.58 L125.79 153.38 L126.29 155.08 L126.79 156.68 L127.29 158.18 L127.79 159.59 L128.29 160.92 L128.78 162.16 L129.28 163.31 L129.78 164.39 L130.28 165.40 L130.78 166.34 L131.28 167.21 L131.78 168.02 L132.28 168.77 L132.78 169.47 L133.28 170.11 L133.77 170.70 L134.27 171.24 L134.77 171.73 L135.27 172.18 L135.77 172.59 L136.27 172.96 L136.77 173.30 L137.27 173.60 L137.77 173.87 L138.27 174.10 L138.76 174.31 L139.26 174.49 L139.76 174.64 L140.26 174.77 L140.76 174.88 L141.26 174.96 L141.76 175.02 L142.26 175.07 L142.76 175.09 L143.26 175.10 L143.75 175.09 L144.25 175.07 L144.75 175.03 L145.25 174.98 L145.75 174.91 L146.25 174.83 L146.75 174.74 L147.25 174.65 L147.75 174.54 L148.25 174.42 L148.74 174.29 L149.24 174.16 L149.74 174.01 L150.24 173.86 L150.74 173.71 L151.24 173.54 L151.74 173.38 L152.24 173.20 L152.74 173.02 L153.24 172.84 L153.73 172.65 L154.23 172.46 L154.73 172.27 L155.23 172.07 L155.73 171.87 L156.23 171.66 L156.73 171.46 L157.23 171.25 L157.73 171.04 L158.23 170.82 L158.72 170.61 L159.22 170.39 L159.72 170.17 L160.22 169.96 L160.72 169.74 L161.22 169.52 L161.72 169.30 L162.22 169.08 L162.72 168.85 L163.22 168.63 L163.71 168.41 L164.21 168.19 L164.71 167.97 L165.21 167.74 L165.71 167.52 L166.21 167.30 L166.71 167.08 L167.21 166.86 L167.71 166.64 L168.21 166.42 L168.70 166.20 L169.20 165.98 L169.70 165.77 L170.20 165.55 L170.70 165.33 L171.20 165.12 L171.70 164.90 L172.20 164.69 L172.70 164.48 L173.20 164.27 L173.69 164.06 L174.19 163.85 L174.69 163.64 L175.19 163.44 L175.69 163.23 L176.19 163.03 L176.69 162.82 L177.19 162.62 L177.69 162.42 L178.19 162.22 L178.68 162.02 L179.18 161.82 L179.68 161.63 L180.18 161.43 L180.68 161.24 L181.18 161.05 L181.68 160.86 L182.18 160.67 L182.68 160.48 L183.18 160.29 L183.67 160.11 L184.17 159.92 L184.67 159.74 L185.17 159.55 L185.67 159.37 L186.17 159.19 L186.67 159.01 L187.17 158.84 L187.67 158.66 L188.17 158.48 L188.66 158.31 L189.16 158.14 L189.66 157.97 L190.16 157.79 L190.66 157.62 L191.16 157.46 L191.66 157.29 L192.16 157.12 L192.66 156.96 L193.16 156.79 L193.65 156.63 L194.15 156.47 L194.65 156.31 L195.15 156.14 L195.65 155.99 L196.15 155.83 L196.65 155.67 L197.15 155.51 L197.65 155.36 L198.15 155.20 L198.64 155.05 L199.14 154.90 L199.64 154.74 L200.14 154.59 L200.64 154.44 L201.14 154.29 L201.64 154.14 L202.14 154.00 L202.64 153.85 L203.14 153.70 L203.63 153.56 L204.13 153.41 L204.63 153.27 L205.13 153.12 L205.63 152.98 L206.13 152.84 L206.63 152.70 L207.13 152.56 L207.63 152.42 L208.13 152.28 L208.62 152.14 L209.12 152.00 L209.62 151.86 L210.12 151.72 L210.62 151.58 L211.12 151.45 L211.62 151.31 L212.12 151.18 L212.62 151.04 L213.12 150.91 L213.61 150.77 L214.11 150.64 L214.61 150.50 L215.11 150.37 L215.61 150.24 L216.11 150.11 L216.61 149.97 L217.11 149.84 L217.61 149.71 L218.11 149.58 L218.60 149.45 L219.10 149.32 L219.60 149.19 L220.10 149.06 L220.60 148.93" stroke="#0a35d2"/>
<path d="M121.30 133.75 L121.80 136.46 L122.30 139.06 L122.80 141.54 L123.30 143.90 L123.79 146.15 L124.29 148.29 L124.79 150.31 L125.29 152.24 L125.79 154.06 L126.29 155.79 L126.79 157.43 L127.29 158.97 L127.79 160.43 L128.29 161.81 L128.78 163.11 L129.28 164.33 L129.78 165.48 L130.28 166.56 L130.78 167.57 L131.28 168.52 L131.78 169.41 L132.28 170.24 L132.78 171.01 L133.28 171.73 L133.77 172.40 L134.27 173.02 L134.77 173.59 L135.27 174.12 L135.77 174.61 L136.27 175.05 L136.77 175.46 L137.27 175.83 L137.77 176.16 L138.27 176.45 L138.76 176.72 L139.26 176.95 L139.76 177.15 L140.26 177.33 L140.76 177.47 L141.26 177.59 L141.76 177.68 L142.26 177.75 L142.76 177.79 L143.26 177.81 L143.75 177.81 L144.25 177.79 L144.75 177.75 L145.25 177.69 L145.75 177.61 L146.25 177.51 L146.75 177.40 L147.25 177.27 L147.75 177.12 L148.25 176.96 L148.74 176.78 L149.24 176.59 L149.74 176.38 L150.24 176.16 L150.74 175.93 L151.24 175.69 L151.74 175.43 L152.24 175.16 L152.74 174.89 L153.24 174.60 L153.73 174.30 L154.23 173.99 L154.73 173.67 L155.23 173.34 L155.73 173.01 L156.23 172.66 L156.73 172.31 L157.23 171.95 L157.73 171.58 L158.23 171.20 L158.72 170.82 L159.22 170.42 L159.72 170.03 L160.22 169.62 L160.72 169.21 L161.22 168.79 L161.72 168.37 L162.22 167.94 L162.72 167.50 L163.22 167.06 L163.71 166.61 L164.21 166.16 L164.71 165.70 L165.21 165.24 L165.71 164.78 L166.21 164.30 L166.71 163.83 L167.21 163.35 L167.71 162.86 L168.21 162.37 L168.70 161.88 L169.20 161.38 L169.70 160.88 L170.20 160.38 L170.70 159.87 L171.20 159.36 L171.70 158.84 L172.20 158.32 L172.70 157.80 L173.20 157.28 L173.69 156.75 L174.19 156.21 L174.69 155.68 L175.19 155.14 L175.69 154.60 L176.19 154.06 L176.69 153.51 L177.19 152.96 L177.69 152.41 L178.19 151.85 L178.68 151.30 L179.18 150.74 L179.68 150.17 L180.18 149.61 L180.68 149.04 L181.18 148.47 L181.68 147.90 L182.18 147.33 L182.68 146.75 L183.18 146.17 L183.67 145.59 L184.17 145.01 L184.67 144.42 L185.17 143.84 L185.67 143.25 L186.17 142.66 L186.67 142.06 L187.17 141.47 L187.67 140.87 L188.17 140.27 L188.66 139.67 L189.16 139.07 L189.66 138.47 L190.16 137.86 L190.66 137.25 L191.16 136.64 L191.66 136.03 L192.16 135.42 L192.66 134.80 L193.16 134.19 L193.65 133.57 L194.15 132.95 L194.65 132.33 L195.15 131.71 L195.65 131.08 L196.15 130.46 L196.65 129.83 L197.15 129.20 L197.65 128.57 L198.15 127.94 L198.64 127.30 L199.14 126.67 L199.64 126.03 L200.14 125.39 L200.64 124.75 L201.14 124.11 L201.64 123.47 L202.14 122.83 L202.64 122.18 L203.14 121.54 L203.63 120.89 L204.13 120.24 L204.63 119.59 L205.13 118.94 L205.63 118.28 L206.13 117.63 L206.63 116.97 L207.13 116.32 L207.63 115.66 L208.13 115.00 L208.62 114.34 L209.12 113.67 L209.62 113.01 L210.12 112.35 L210.62 111.68 L211.12 111.01 L211.62 110.34 L212.12 109.67 L212.62 109.00 L213.12 108.33 L213.61 107.65 L214.11 106.98 L214.61 106.30 L215.11 105.62 L215.61 104.95 L216.11 104.27 L216.61 103.58 L217.11 102.90 L217.61 102.22 L218.11 101.53 L218.60 100.85 L219.10 100.16 L219.60 99.47 L220.10 98.78 L220.60 98.09" stroke="#cc0a9a"/>
<path d="M121.30 134.54 L121.80 136.93 L122.30 139.30 L122.80 141.65 L123.30 143.95 L123.79 146.18 L124.29 148.35 L124.79 150.43 L125.29 152.43 L125.79 154.35 L126.29 156.17 L126.79 157.89 L127.29 159.52 L127.79 161.06 L128.29 162.49 L128.78 163.84 L129.28 165.08 L129.78 166.24 L130.28 167.30 L130.78 168.28 L131.28 169.17 L131.78 169.97 L132.28 170.68 L132.78 171.32 L133.28 171.88 L133.77 172.36 L134.27 172.76 L134.77 173.09 L135.27 173.35 L135.77 173.54 L136.27 173.67 L136.77 173.73 L137.27 173.73 L137.77 173.67 L138.27 173.55 L138.76 173.37 L139.26 173.13 L139.76 172.84 L140.26 172.50 L140.76 172.11 L141.26 171.67 L141.76 171.18 L142.26 170.65 L142.76 170.07 L143.26 169.45 L143.75 168.78 L144.25 168.07 L144.75 167.33 L145.25 166.54 L145.75 165.72 L146.25 164.86 L146.75 163.96 L147.25 163.02 L147.75 162.06 L148.25 161.06 L148.74 160.02 L149.24 158.96 L149.74 157.86 L150.24 156.74 L150.74 155.58 L151.24 154.40 L151.74 153.18 L152.24 151.94 L152.74 150.67 L153.24 149.38 L153.73 148.06 L154.23 146.71 L154.73 145.34 L155.23 143.95 L155.73 142.52 L156.23 141.08 L156.73 139.61 L157.23 138.12 L157.73 136.61 L158.23 135.08 L158.72 133.52 L159.22 131.94 L159.72 130.34 L160.22 128.72 L160.72 127.08 L161.22 125.42 L161.72 123.74 L162.22 122.04 L162.72 120.32 L163.22 118.58 L163.71 116.82 L164.21 115.05 L164.71 113.25 L165.21 111.44 L165.71 109.61 L166.21 107.76 L166.71 105.89 L167.21 104.01 L167.71 102.10 L168.21 100.18 L168.70 98.25 L169.20 96.29 L169.70 94.32 L170.20 92.34 L170.70 90.33 L171.20 88.31 L171.70 86.28 L172.20 84.23 L172.70 82.16 L173.20 80.07 L173.69 77.97 L174.19 75.86 L174.69 73.72 L175.19 71.58 L175.69 69.41 L176.19 67.24 L176.69 65.04 L177.19 62.83 L177.69 60.61 L178.19 58.37 L178.68 56.12 L179.18 53.85 L179.68 51.56 L180.18 49.27 L180.68 46.95 L181.18 44.62 L181.68 42.28 L182.18 39.92 L182.68 37.55 L183.18 35.16 L183.67 32.76 L184.17 30.35 L184.67 27.92 L185.17 25.47 L185.67 23.01 L186.17 20.54 L186.67 18.05 L187.17 15.55 L187.67 13.04 L188.17 10.50 L188.66 7.96 L189.16 5.40 L189.66 2.83 L190.16 0.24 L190.66 -2.36 L191.16 -4.97 L191.66 -7.60 L192.16 -10.24 L192.66 -12.90 L193.16 -15.57 L193.65 -18.26 L194.15 -20.95 L194.65 -23.67 L195.15 -26.39 L195.65 -29.13 L196.15 -31.89 L196.65 -34.66 L197.15 -37.44 L197.65 -40.23 L198.15 -43.04 L198.64 -45.87 L199.14 -48.70 L199.64 -51.55 L200.14 -54.42 L200.64 -57.30 L201.14 -60.19 L201.64 -63.09 L202.14 -66.01 L202.64 -68.95 L203.14 -71.89 L203.63 -74.86 L204.13 -77.83 L204.63 -80.82 L205.13 -83.82 L205.63 -86.84 L206.13 -89.87 L206.63 -92.91 L207.13 -95.97 L207.63 -99.04 L208.13 -102.12 L208.62 -105.22 L209.12 -108.33 L209.62 -111.46 L210.12 -114.60 L210.62 -117.75 L211.12 -120.92 L211.62 -124.10 L212.12 -127.29 L212.62 -130.50 L213.12 -133.72 L213.61 -136.95 L214.11 -140.20 L214.61 -143.47 L215.11 -146.74 L215.61 -150.03 L216.11 -153.34 L216.61 -156.65 L217.11 -159.98 L217.61 -163.33 L218.11 -166.69 L218.60 -170.06 L219.10 -173.45 L219.60 -176.85 L220.10 -180.26 L220.60 -183.69" stroke="#0adc0a"/>
</g>
<g stroke="#999" stroke-width="0.6" fill="none"><line x1="121.30" y1="184.30" x2="121.30" y2="181.90"/><line x1="121.30" y1="122.80" x2="121.30" y2="125.20"/><line x1="123.78" y1="184.30" x2="123.78" y2="182.90"/><line x1="123.78" y1="122.80" x2="123.78" y2="124.20"/><line x1="126.27" y1="184.30" x2="126.27" y2="182.90"/><line x1="126.27" y1="122.80" x2="126.27" y2="124.20"/><line x1="128.75" y1="184.30" x2="128.75" y2="182.90"/><line x1="128.75" y1="122.80" x2="128.75" y2="124.20"/><line x1="131.23" y1="184.30" x2="131.23" y2="182.90"/><line x1="131.23" y1="122.80" x2="131.23" y2="124.20"/><line x1="133.71" y1="184.30" x2="133.71" y2="181.90"/><line x1="133.71" y1="122.80" x2="133.71" y2="125.20"/><line x1="136.19" y1="184.30" x2="136.19" y2="182.90"/><line x1="136.19" y1="122.80" x2="136.19" y2="124.20"/><line x1="138.68" y1="184.30" x2="138.68" y2="182.90"/><line x1="138.68" y1="122.80" x2="138.68" y2="124.20"/><line x1="141.16" y1="184.30" x2="141.16" y2="182.90"/><line x1="141.16" y1="122.80" x2="141.16" y2="124.20"/><line x1="143.64" y1="184.30" x2="143.64" y2="182.90"/><line x1="143.64" y1="122.80" x2="143.64" y2="124.20"/><line x1="146.12" y1="184.30" x2="146.12" y2="181.90"/><line x1="146.12" y1="122.80" x2="146.12" y2="125.20"/><line x1="148.61" y1="184.30" x2="148.61" y2="182.90"/><line x1="148.61" y1="122.80" x2="148.61" y2="124.20"/><line x1="151.09" y1="184.30" x2="151.09" y2="182.90"/><line x1="151.09" y1="122.80" x2="151.09" y2="124.20"/><line x1="153.57" y1="184.30" x2="153.57" y2="182.90"/><line x1="153.57" y1="122.80" x2="153.57" y2="124.20"/><line x1="156.06" y1="184.30" x2="156.06" y2="182.90"/><line x1="156.06" y1="122.80" x2="156.06" y2="124.20"/><line x1="158.54" y1="184.30" x2="158.54" y2="181.90"/><line x1="158.54" y1="122.80" x2="158.54" y2="125.20"/><line x1="161.02" y1="184.30" x2="161.02" y2="182.90"/><line x1="161.02" y1="122.80" x2="161.02" y2="124.20"/><line x1="163.50" y1="184.30" x2="163.50" y2="182.90"/><line x1="163.50" y1="122.80" x2="163.50" y2="124.20"/><line x1="165.98" y1="184.30" x2="165.98" y2="182.90"/><line x1="165.98" y1="122.80" x2="165.98" y2="124.20"/><line x1="168.47" y1="184.30" x2="168.47" y2="182.90"/><line x1="168.47" y1="122.80" x2="168.47" y2="124.20"/><line x1="170.95" y1="184.30" x2="170.95" y2="181.90"/><line x1="170.95" y1="122.80" x2="170.95" y2="125.20"/><line x1="173.43" y1="184.30" x2="173.43" y2="182.90"/><line x1="173.43" y1="122.80" x2="173.43" y2="124.20"/><line x1="175.91" y1="184.30" x2="175.91" y2="182.90"/><line x1="175.91" y1="122.80" x2="175.91" y2="124.20"/><line x1="178.40" y1="184.30" x2="178.40" y2="182.90"/><line x1="178.40" y1="122.80" x2="178.40" y2="124.20"/><line x1="180.88" y1="184.30" x2="180.88" y2="182.90"/><line x1="180.88" y1="122.80" x2="180.88" y2="124.20"/><line x1="183.36" y1="184.30" x2="183.36" y2="181.90"/><line x1="183.36" y1="122.80" x2="183.36" y2="125.20"/><line x1="185.84" y1="184.30" x2="185.84" y2="182.90"/><line x1="185.84" y1="122.80" x2="185.84" y2="124.20"/><line x1="188.33" y1="184.30" x2="188.33" y2="182.90"/><line x1="188.33" y1="122.80" x2="188.33" y2="124.20"/><line x1="190.81" y1="184.30" x2="190.81" y2="182.90"/><line x1="190.81" y1="122.80" x2="190.81" y2="124.20"/><line x1="193.29" y1="184.30" x2="193.29" y2="182.90"/><line x1="193.29" y1="122.80" x2="193.29" y2="124.20"/><line x1="195.77" y1="184.30" x2="195.77" y2="181.90"/><line x1="195.77" y1="122.80" x2="195.77" y2="125.20"/><line x1="198.26" y1="184.30" x2="198.26" y2="182.90"/><line x1="198.26" y1="122.80" x2="198.26" y2="124.20"/><line x1="200.74" y1="184.30" x2="200.74" y2="182.90"/><line x1="200.74" y1="122.80" x2="200.74" y2="124.20"/><line x1="203.22" y1="184.30" x2="203.22" y2="182.90"/><line x1="203.22" y1="122.80" x2="203.22" y2="124.20"/><line x1="205.70" y1="184.30" x2="205.70" y2="182.90"/><line x1="205.70" y1="122.80" x2="205.70" y2="124.20"/><line x1="208.19" y1="184.30" x2="208.19" y2="181.90"/><line x1="208.19" y1="122.80" x2="208.19" y2="125.20"/><line x1="210.67" y1="184.30" x2="210.67" y2="182.90"/><line x1="210.67" y1="122.80" x2="210.67" y2="124.20"/><line x1="213.15" y1="184.30" x2="213.15" y2="182.90"/><line x1="213.15" y1="122.80" x2="213.15" y2="124.20"/><line x1="215.63" y1="184.30" x2="215.63" y2="182.90"/><line x1="215.63" y1="122.80" x2="215.63" y2="124.20"/><line x1="218.12" y1="184.30" x2="218.12" y2="182.90"/><line x1="218.12" y1="122.80" x2="218.12" y2="124.20"/><line x1="220.60" y1="184.30" x2="220.60" y2="181.90"/><line x1="220.60" y1="122.80" x2="220.60" y2="125.20"/><line x1="121.30" y1="184.30" x2="123.70" y2="184.30"/><line x1="220.60" y1="184.30" x2="218.20" y2="184.30"/><line x1="121.30" y1="182.25" x2="122.70" y2="182.25"/><line x1="220.60" y1="182.25" x2="219.20" y2="182.25"/><line x1="121.30" y1="180.20" x2="122.70" y2="180.20"/><line x1="220.60" y1="180.20" x2="219.20" y2="180.20"/><line x1="121.30" y1="178.15" x2="122.70" y2="178.15"/><line x1="220.60" y1="178.15" x2="219.20" y2="178.15"/><line x1="121.30" y1="176.10" x2="122.70" y2="176.10"/><line x1="220.60" y1="176.10" x2="219.20" y2="176.10"/><line x1="121.30" y1="174.05" x2="123.70" y2="174.05"/><line x1="220.60" y1="174.05" x2="218.20" y2="174.05"/><line x1="121.30" y1="172.00" x2="122.70" y2="172.00"/><line x1="220.60" y1="172.00" x2="219.20" y2="172.00"/><line x1="121.30" y1="169.95" x2="122.70" y2="169.95"/><line x1="220.60" y1="169.95" x2="219.20" y2="169.95"/><line x1="121.30" y1="167.90" x2="122.70" y2="167.90"/><line x1="220.60" y1="167.90" x2="219.20" y2="167.90"/><line x1="121.30" y1="165.85" x2="122.70" y2="165.85"/><line x1="220.60" y1="165.85" x2="219.20" y2="165.85"/><line x1="121.30" y1="163.80" x2="123.70" y2="163.80"/><line x1="220.60" y1="163.80" x2="218.20" y2="163.80"/><line x1="121.30" y1="161.75" x2="122.70" y2="161.75"/><line x1="220.60" y1="161.75" x2="219.20" y2="161.75"/><line x1="121.30" y1="159.70" x2="122.70" y2="159.70"/><line x1="220.60" y1="159.70" x2="219.20" y2="159.70"/><line x1="121.30" y1="157.65" x2="122.70" y2="157.65"/><line x1="220.60" y1="157.65" x2="219.20" y2="157.65"/><line x1="121.30" y1="155.60" x2="122.70" y2="155.60"/><line x1="220.60" y1="155.60" x2="219.20" y2="155.60"/><line x1="121.30" y1="153.55" x2="123.70" y2="153.55"/><line x1="220.60" y1="153.55" x2="218.20" y2="153.55"/><line x1="121.30" y1="151.50" x2="122.70" y2="151.50"/><line x1="220.60" y1="151.50" x2="219.20" y2="151.50"/><line x1="121.30" y1="149.45" x2="122.70" y2="149.45"/><line x1="220.60" y1="149.45" x2="219.20" y2="149.45"/><line x1="121.30" y1="147.40" x2="122.70" y2="147.40"/><line x1="220.60" y1="147.40" x2="219.20" y2="147.40"/><line x1="121.30" y1="145.35" x2="122.70" y2="145.35"/><line x1="220.60" y1="145.35" x2="219.20" y2="145.35"/><line x1="121.30" y1="143.30" x2="123.70" y2="143.30"/><line x1="220.60" y1="143.30" x2="218.20" y2="143.30"/><line x1="121.30" y1="141.25" x2="122.70" y2="141.25"/><line x1="220.60" y1="141.25" x2="219.20" y2="141.25"/><line x1="121.30" y1="139.20" x2="122.70" y2="139.20"/><line x1="220.60" y1="139.20" x2="219.20" y2="139.20"/><line x1="121.30" y1="137.15" x2="122.70" y2="137.15"/><line x1="220.60" y1="137.15" x2="219.20" y2="137.15"/><line x1="121.30" y1="135.10" x2="122.70" y2="135.10"/><line x1="220.60" y1="135.10" x2="219.20" y2="135.10"/><line x1="121.30" y1="133.05" x2="123.70" y2="133.05"/><line x1="220.60" y1="133.05" x2="218.20" y2="133.05"/><line x1="121.30" y1="131.00" x2="122.70" y2="131.00"/><line x1="220.60" y1="131.00" x2="219.20" y2="131.00"/><line x1="121.30" y1="128.95" x2="122.70" y2="128.95"/><line x1="220.60" y1="128.95" x2="219.20" y2="128.95"/><line x1="121.30" y1="126.90" x2="122.70" y2="126.90"/><line x1="220.60" y1="126.90" x2="219.20" y2="126.90"/><line x1="121.30" y1="124.85" x2="122.70" y2="124.85"/><line x1="220.60" y1="124.85" x2="219.20" y2="124.85"/><line x1="121.30" y1="122.80" x2="123.70" y2="122.80"/><line x1="220.60" y1="122.80" x2="218.20" y2="122.80"/></g>
<rect x="121.30" y="122.80" width="99.30" height="61.50" fill="none" stroke="#999999" stroke-width="0.9"/>
<g font-size="10.2" fill="#747474">
<text x="116.9" y="187.60" text-anchor="end">−0.5</text>
<text x="116.9" y="177.35" text-anchor="end">−0.4</text>
<text x="116.9" y="167.10" text-anchor="end">−0.3</text>
<text x="116.9" y="156.85" text-anchor="end">−0.2</text>
<text x="116.9" y="146.60" text-anchor="end">−0.1</text>
<text x="116.9" y="136.35" text-anchor="end">0.0</text>
<text x="116.9" y="126.10" text-anchor="end">0.1</text>
<text x="133.71" y="196.6" text-anchor="middle">3</text>
<text x="146.12" y="196.6" text-anchor="middle">4</text>
<text x="158.54" y="196.6" text-anchor="middle">5</text>
<text x="170.95" y="196.6" text-anchor="middle">6</text>
<text x="183.36" y="196.6" text-anchor="middle">7</text>
<text x="195.77" y="196.6" text-anchor="middle">8</text>
<text x="208.19" y="196.6" text-anchor="middle">9</text>
<text x="220.60" y="196.6" text-anchor="middle">10</text>
</g>
</svg></body></html>
